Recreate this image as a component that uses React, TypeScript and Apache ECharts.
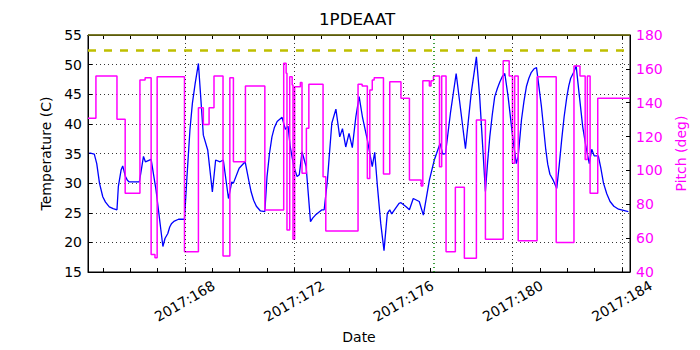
import React, { useEffect, useRef } from "react";
import * as echarts from "echarts";

const tempDays = [164.51,164.69,164.78,164.88,165.00,165.10,165.24,165.38,165.52,165.57,165.67,165.73,165.83,165.90,165.97,166.34,166.49,166.56,166.77,166.95,167.20,167.28,167.38,167.45,167.52,167.62,167.77,167.99,168.08,168.19,168.28,168.38,168.50,168.68,168.84,169.01,169.13,169.29,169.41,169.60,169.72,169.78,169.99,170.21,170.34,170.43,170.52,170.62,170.77,170.93,171.01,171.10,171.19,171.28,171.38,171.56,171.68,171.78,171.86,171.99,172.11,172.19,172.29,172.44,172.60,172.68,172.78,173.02,173.10,173.22,173.38,173.53,173.67,173.77,173.89,174.01,174.13,174.26,174.38,174.50,174.68,174.86,174.95,175.05,175.17,175.29,175.41,175.50,175.57,175.84,175.91,176.10,176.22,176.36,176.58,176.73,176.95,177.13,177.34,177.44,177.54,177.72,177.93,178.11,178.27,178.48,178.67,178.79,179.00,179.08,179.16,179.25,179.34,179.44,179.53,179.62,179.71,179.83,180.01,180.13,180.20,180.32,180.41,180.50,180.59,180.68,180.78,180.87,181.05,181.21,181.28,181.36,181.48,181.61,181.70,181.79,181.88,181.98,182.05,182.12,182.24,182.32,182.44,182.56,182.68,182.80,182.89,182.98,183.13,183.22,183.32,183.44,183.56,183.70,183.87,184.23];
const temps = [35.1,34.9,33.3,30.0,27.7,26.8,26.0,25.7,25.5,29.4,32.2,32.9,31.1,30.5,30.2,30.2,34.5,33.6,34.0,28.8,19.3,20.7,21.5,22.6,23.2,23.6,23.9,23.9,31.0,39.0,43.5,46.8,50.2,38.1,35.6,28.5,33.9,33.6,33.9,27.4,30.2,30.0,32.5,33.6,30.5,28.5,27.1,26.1,25.3,25.2,31.1,35.0,37.8,39.4,40.4,41.1,39.1,39.6,36.1,32.8,31.1,31.4,35.3,32.8,23.5,24.1,24.6,25.5,25.5,30.5,40.1,42.5,37.8,39.2,36.1,38.4,36.0,41.2,44.6,41.2,37.3,32.8,35.2,29.4,23.2,18.6,24.9,25.5,24.8,26.6,26.7,26.0,25.5,27.4,26.9,24.6,30.5,33.9,36.7,34.9,35.0,41.8,48.5,41.8,35.8,45.2,51.3,44.6,28.6,33.5,37.8,41.5,44.6,46.0,47.1,48.0,48.5,44.6,37.3,33.3,34.5,40.7,43.8,46.3,47.7,48.7,49.3,49.5,42.9,35.6,33.2,31.5,30.5,29.1,33.0,37.3,41.2,44.6,46.4,47.7,48.8,49.8,44.6,39.5,36.1,33.3,35.7,34.6,34.6,32.6,30.0,28.2,26.9,26.1,25.6,25.2];

const pitchDays = [164.46,164.75,165.52,165.82,166.36,166.55,166.77,166.91,166.99,167.99,168.50,168.68,168.89,169.07,169.40,169.65,169.78,170.22,170.93,171.62,171.71,171.74,171.84,171.93,171.96,172.02,172.23,172.29,172.45,172.54,173.06,173.16,174.34,174.49,174.68,174.77,174.86,174.93,175.27,175.50,175.91,176.22,176.65,176.71,176.95,177.01,177.10,177.32,177.40,177.56,177.90,178.23,178.67,179.00,179.65,179.87,179.99,180.07,180.20,180.89,181.59,182.24,182.46,182.65,182.73,182.83,183.11,184.29];
const pitch = [130.8,155.8,130.2,86.5,153.4,154.8,50.4,48.4,155.4,52,137,127.2,137,155.8,49.5,154.8,105.2,149.9,76.6,163.3,157.4,64.8,155.4,150.5,59.3,149.5,152,98.3,124.9,150.9,96.3,64.2,150.9,149.9,95.3,147.5,153.4,154.8,97.9,152.4,142.6,94.3,90.8,153,149.9,153,155.8,102.2,155.8,52,90,48.1,129.8,59.3,164.8,155.8,104.2,155.8,58.5,155.4,57.5,161.7,155.8,106.5,155.8,86.5,142.6,142.6];

const xMin = 164.46;
const xMax = 184.29;
const labelDays = [168, 172, 176, 180, 184];
const tickDays = [165,166,167,168,169,170,171,172,173,174,175,176,177,178,179,180,181,182,183,184];
const limitTemp = 52.5;
const topLimit = 55;
const nowDay = 177.1;

const FONT = "DejaVu Sans";

export default function App() {
  const ref = useRef<HTMLDivElement>(null);
  useEffect(() => {
    const chart = echarts.init(ref.current!, null, { renderer: "svg" });
    const gridStyle = { color: "#000", type: [1, 3] as any, width: 0.8 };
    const option: any = {
      animation: false,
      backgroundColor: "#fff",
      textStyle: { fontFamily: FONT },
      title: {
        text: "1PDEAAT",
        left: 319,
        top: 10,
        padding: 0,
        textStyle: { fontFamily: FONT, fontSize: 16.7, fontWeight: "normal", color: "#000" },
      },
      grid: { left: 88, right: 70, top: 35, bottom: 78, show: true, borderColor: "#000", borderWidth: 1, backgroundColor: "transparent" },
      xAxis: [
        {
          type: "value",
          min: xMin,
          max: xMax,
          position: "bottom",
          name: "Date",
          nameLocation: "middle",
          nameGap: 58,
          nameTextStyle: { fontFamily: FONT, fontSize: 14, color: "#000" },
          axisLine: { show: true, lineStyle: { color: "#000", width: 1 } },
          axisTick: { show: true, inside: true, length: 4, customValues: tickDays, lineStyle: { color: "#000" } },
          axisLabel: {
            customValues: labelDays,
            rotate: 30,
            align: "center",
            verticalAlign: "middle",
            fontFamily: FONT,
            fontSize: 14,
            color: "#000",
            margin: 29,
            formatter: (v: number) => "2017:" + Math.round(v),
          },
          splitLine: { show: false },
        },
        {
          type: "value",
          min: xMin,
          max: xMax,
          position: "top",
          axisLine: { show: true, lineStyle: { color: "#000", width: 1 } },
          axisTick: { show: true, inside: true, length: 4, customValues: tickDays, lineStyle: { color: "#000" } },
          axisLabel: { show: false },
          splitLine: { show: false },
        },
      ],
      yAxis: [
        {
          type: "value",
          min: 15,
          max: 55,
          interval: 5,
          position: "left",
          name: "Temperature (C)",
          nameLocation: "middle",
          nameRotate: 90,
          nameGap: 34,
          nameTextStyle: { fontFamily: FONT, fontSize: 14, color: "#000" },
          axisLine: { show: true, lineStyle: { color: "#000" } },
          axisTick: { show: true, inside: true, length: 4, lineStyle: { color: "#000" } },
          axisLabel: { fontFamily: FONT, fontSize: 14, color: "#000", margin: 6 },
          splitLine: { show: true, lineStyle: gridStyle },
        },
        {
          type: "value",
          min: 40,
          max: 180,
          interval: 20,
          position: "right",
          name: "Pitch (deg)",
          nameLocation: "middle",
          nameRotate: 90,
          nameGap: 42,
          nameTextStyle: { fontFamily: FONT, fontSize: 14, color: "#ff00ff" },
          axisLine: { show: true, lineStyle: { color: "#000" } },
          axisTick: { show: true, inside: true, length: 4, lineStyle: { color: "#000" } },
          axisLabel: { fontFamily: FONT, fontSize: 14, color: "#ff00ff", margin: 6 },
          splitLine: { show: false },
        },
      ],
      series: [
        {
          type: "line",
          data: [],
          z: 1,
          silent: true,
          markLine: {
            silent: true,
            symbol: "none",
            label: { show: false },
            lineStyle: gridStyle,
            data: labelDays.map((d) => ({ xAxis: d })),
          },
        },
        {
          type: "line",
          name: "temp",
          xAxisIndex: 0,
          yAxisIndex: 0,
          data: tempDays.map((d, i) => [d, temps[i]]),
          showSymbol: false,
          symbol: "none",
          lineStyle: { color: "#0000ff", width: 1.3 },
          z: 2,
          markLine: {
            silent: true,
            symbol: "none",
            label: { show: false },
            data: [
              { yAxis: limitTemp, lineStyle: { color: "#bfbf00", type: [8, 8], width: 2.5 } },
              { yAxis: topLimit, lineStyle: { color: "#7a7a10", type: "solid", width: 1.5 } },
              { xAxis: nowDay, lineStyle: { color: "#008000", type: [1, 3], width: 1.5 } },
            ],
          },
        },
        {
          type: "line",
          name: "pitch",
          xAxisIndex: 0,
          yAxisIndex: 1,
          step: "end",
          data: pitchDays.map((d, i) => [d, pitch[i]]),
          showSymbol: false,
          symbol: "none",
          lineStyle: { color: "#ff00ff", width: 1.5 },
          z: 3,
        },
      ],
    };
    chart.setOption(option);
    return () => chart.dispose();
  }, []);
  return (
    <div
      ref={ref}
      style={{ position: "fixed", left: 0, top: 0, width: 700, height: 350, background: "#fff" }}
    />
  );
}
